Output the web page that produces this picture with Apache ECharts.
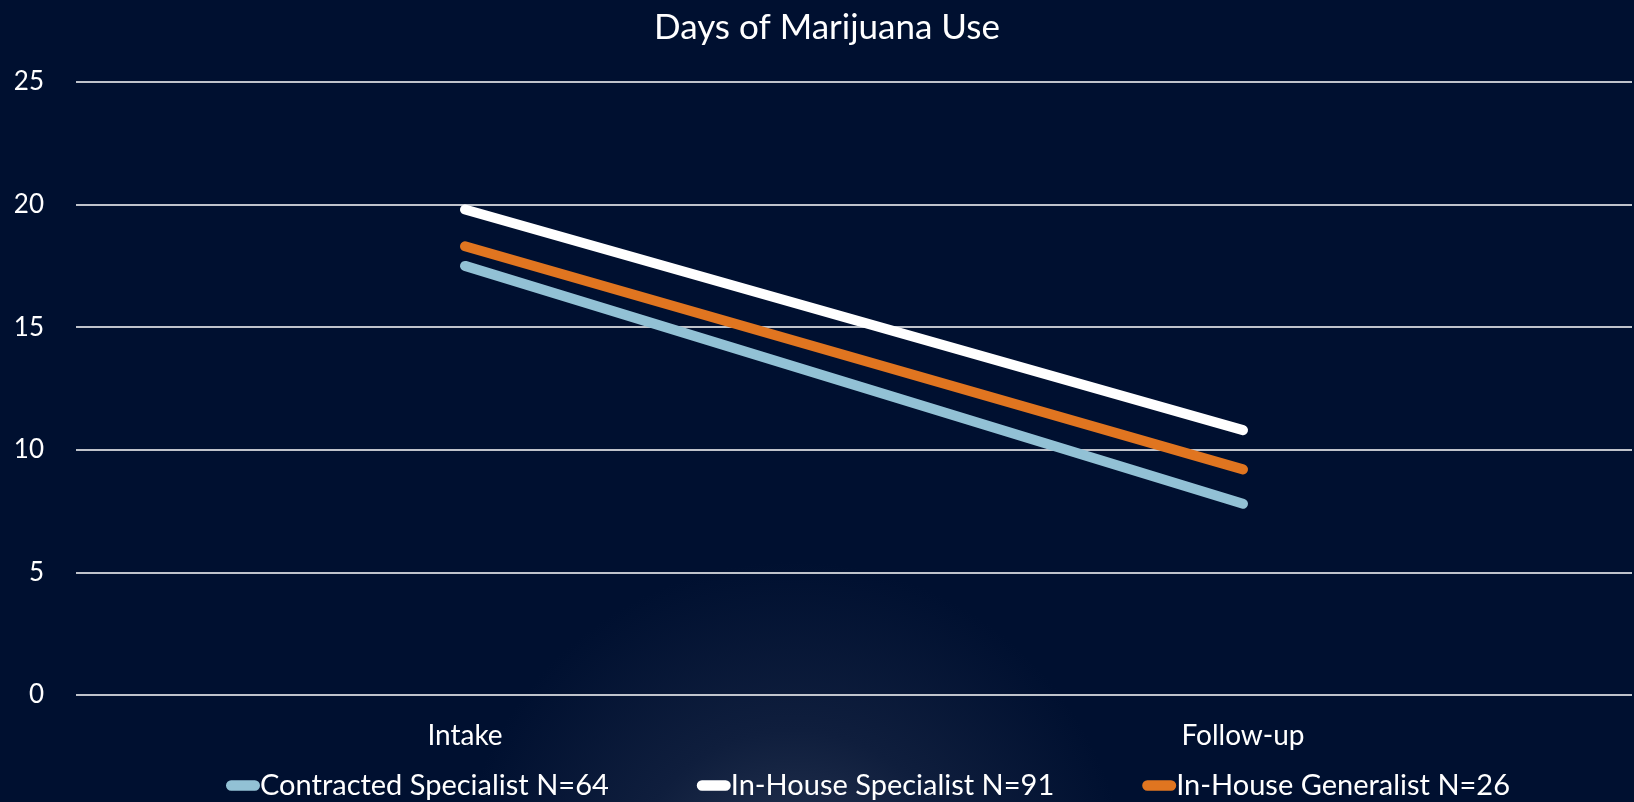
<!DOCTYPE html>
<html>
<head>
<meta charset="utf-8">
<script src="https://cdn.jsdelivr.net/npm/echarts@6/dist/echarts.min.js"></script>
<style>
html,body{margin:0;padding:0;background:#001030;}
#chart{width:1634px;height:802px;}
</style>
</head>
<body>
<div id="chart"></div>
<script>
const categories = ['Intake', 'Follow-up'];
const contractedSpecialist = [17.5, 7.8];
const inHouseSpecialist = [19.8, 10.8];
const inHouseGeneralist = [18.3, 9.2];
const seriesNames = ['Contracted Specialist N=64', 'In-House Specialist N=91', 'In-House Generalist N=26'];
const seriesColors = ['#92c1d5', '#ffffff', '#e07520'];
const yTicks = { min: 0, max: 25, interval: 5 };

const FONT = 'Lato';
const pill = 'path://M5,0 H28 A5,5 0 0 1 28,10 H5 A5,5 0 0 1 5,0 Z';

const chart = echarts.init(document.getElementById('chart'));
const seriesData = [contractedSpecialist, inHouseSpecialist, inHouseGeneralist];
const drawOrder = [0, 2, 1];

chart.setOption({
  backgroundColor: {
    type: 'radial', x: 0.485, y: 1.12, r: 0.42,
    colorStops: [
      { offset: 0, color: '#2c3a55' },
      { offset: 0.5, color: '#0f1e3d' },
      { offset: 1, color: '#001030' }
    ]
  },
  animation: false,
  title: {
    text: 'Days of Marijuana Use',
    left: 649,
    top: 5,
    textStyle: { color: '#ffffff', fontFamily: FONT, fontWeight: 'normal', fontSize: 35 }
  },
  legend: {
    bottom: -3,
    left: 221,
    itemGap: 88,
    itemWidth: 34,
    itemHeight: 13,
    data: seriesNames.map((n, i) => ({ name: n, icon: pill })),
    textStyle: { color: '#ffffff', fontFamily: FONT, fontSize: 29, padding: [0, 0, 0, -5] }
  },
  grid: { left: 76, right: 2, top: 82, bottom: 107, containLabel: false },
  xAxis: {
    type: 'category',
    data: categories,
    boundaryGap: true,
    axisLine: { show: false },
    axisTick: { show: false },
    axisLabel: { color: '#ffffff', fontFamily: FONT, fontSize: 28, margin: 27 }
  },
  yAxis: {
    type: 'value',
    min: yTicks.min, max: yTicks.max, interval: yTicks.interval,
    axisLine: { show: false },
    axisTick: { show: false },
    axisLabel: { color: '#ffffff', fontFamily: FONT, fontSize: 26, margin: 32 },
    splitLine: { lineStyle: { color: '#ffffff', width: 1.5 } }
  },
  series: drawOrder.map(i => ({
    name: seriesNames[i],
    type: 'line',
    data: seriesData[i],
    color: seriesColors[i],
    showSymbol: false,
    symbol: 'none',
    lineStyle: { width: 10, color: seriesColors[i], cap: 'round' },
    z: 3
  }))
});
</script>
</body>
</html>
